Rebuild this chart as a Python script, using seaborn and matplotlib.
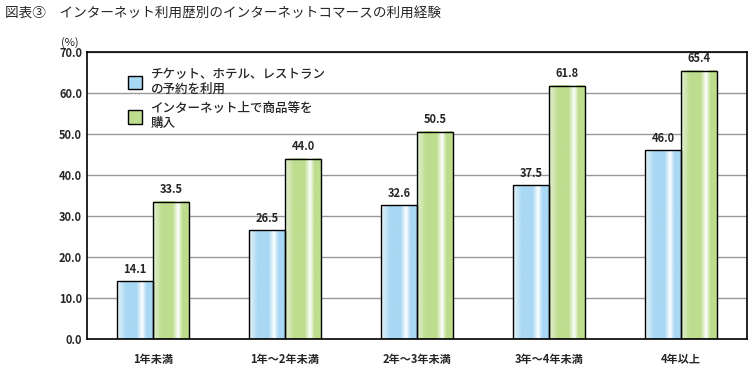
import numpy as np
import pandas as pd
import matplotlib
matplotlib.use("Agg")
import matplotlib.pyplot as plt
import seaborn as sns
from matplotlib.colors import LinearSegmentedColormap
from matplotlib.patches import Patch

categories = ["1年未満", "1年～2年未満", "2年～3年未満", "3年～4年未満", "4年以上"]
series_names = ["チケット、ホテル、レストラン\nの予約を利用", "インターネット上で商品等を\n購入"]
reserve = [14.1, 26.5, 32.6, 37.5, 46.0]
purchase = [33.5, 44.0, 50.5, 61.8, 65.4]
yticks = [0, 10, 20, 30, 40, 50, 60, 70]

base_colors = ["#a9d8f4", "#bedd8e"]

sns.set_style("white")
plt.rcParams["font.family"] = ["Noto Sans CJK JP", "DejaVu Sans"]

df = pd.DataFrame({
    "cat": categories * 2,
    "series": [series_names[0]] * 5 + [series_names[1]] * 5,
    "val": reserve + purchase,
})

fig = plt.figure(figsize=(7.56, 3.69), dpi=100)
ax = fig.add_axes([87 / 756, 1 - 339 / 369, 660 / 756, 287 / 369])

sns.barplot(data=df, x="cat", y="val", hue="series", palette=base_colors,
            width=0.545, edgecolor="black", linewidth=1, legend=False,
            ax=ax, zorder=3)


def grad_cmap(c):
    return LinearSegmentedColormap.from_list("g", [
        (0.0, "#e8f4fb" if c == base_colors[0] else "#e4f0d2"),
        (0.25, c), (0.55, c), (0.7, "white"), (0.82, c), (1.0, c)])


grad = np.linspace(0, 1, 256).reshape(1, -1)
for i, cont in enumerate(ax.containers):
    cm = grad_cmap(base_colors[i])
    for p in cont.patches:
        x0, y0 = p.get_x(), p.get_y()
        w, h = p.get_width(), p.get_height()
        ax.imshow(grad, extent=[x0, x0 + w, y0, y0 + h], aspect="auto",
                  cmap=cm, zorder=2.5, interpolation="bilinear")
        p.set_facecolor("none")
    ax.bar_label(cont, fmt="%.1f", padding=4, fontsize=8, fontweight="bold")

ax.set_xlim(-0.5, 4.5)
ax.set_ylim(0, 70)
ax.set_yticks(yticks)
ax.set_yticklabels([f"{v:.1f}" for v in yticks], fontsize=8, fontweight="bold")
ax.tick_params(axis="x", labelsize=8, pad=10)
for t in ax.get_xticklabels():
    t.set_fontweight("bold")
ax.tick_params(length=0)
ax.yaxis.grid(True, color="#999999", linewidth=1, zorder=0)
ax.set_axisbelow(True)
for s in ax.spines.values():
    s.set_color("black")
    s.set_linewidth(1.2)
ax.set_xlabel("")
ax.set_ylabel("")

handles = [Patch(facecolor=base_colors[0], edgecolor="black"),
           Patch(facecolor=base_colors[1], edgecolor="black")]
ax.legend(handles, series_names, loc="upper left", bbox_to_anchor=(0.045, 0.985),
          frameon=False, prop={"size": 9, "weight": "medium"},
          handlelength=1.1, handleheight=1.3,
          handletextpad=0.7, labelspacing=0.55)

fig.text(5 / 756, 1 - 14 / 369, "図表③　インターネット利用歴別のインターネットコマースの利用経験",
         fontsize=9.8, va="center", ha="left")
fig.text(70 / 756, 1 - 43 / 369, "(%)", fontsize=8, va="center", ha="center")

fig.savefig("out.png", dpi=100)
